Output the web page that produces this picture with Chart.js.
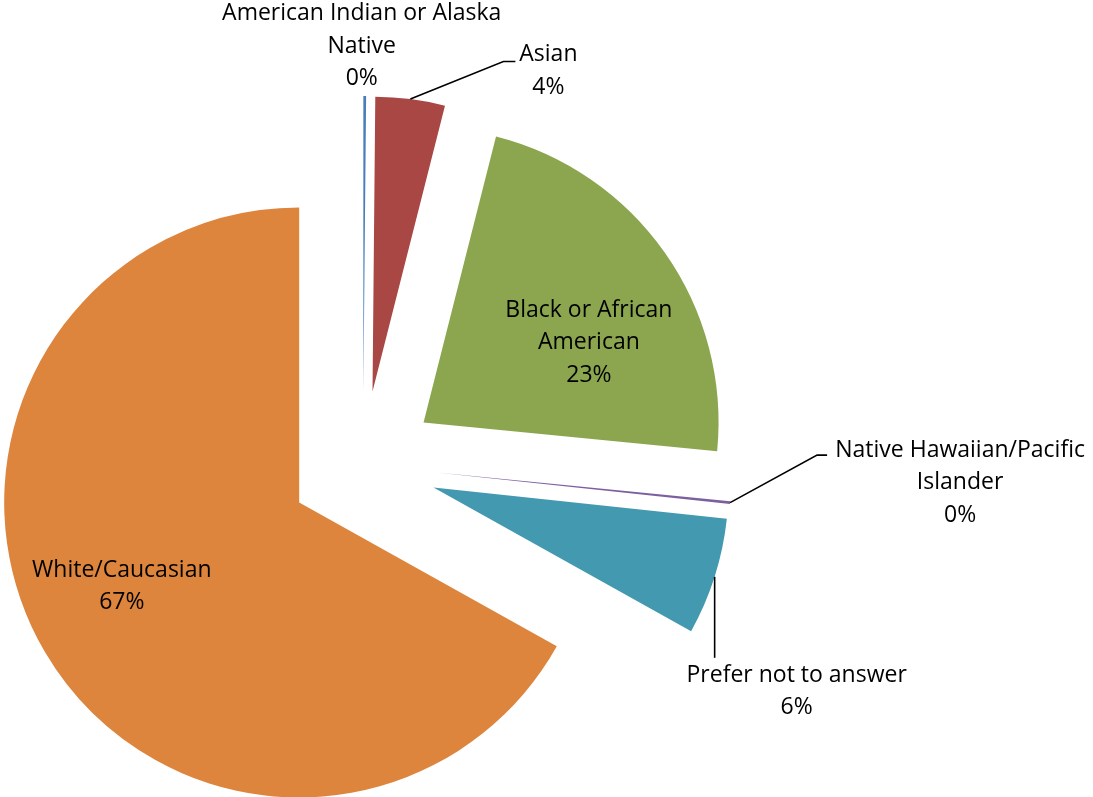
<!DOCTYPE html>
<html>
<head>
<meta charset="utf-8">
<script src="https://cdn.jsdelivr.net/npm/chart.js@4"></script>
<style>
  html, body { margin: 0; padding: 0; background: #fff; }
  #wrap { width: 1093px; height: 797px; position: relative; }
</style>
</head>
<body>
<div id="wrap"><canvas id="pie"></canvas></div>
<script>
// Survey data (percent of respondents)
const categories = [
    'American Indian or Alaska Native',
    'Asian',
    'Black or African American',
    'Native Hawaiian/Pacific Islander',
    'Prefer not to answer',
    'White/Caucasian'
];
const shares = [0.15, 3.8, 22.6, 0.15, 6.4, 66.9];
const sliceColors = ['#4A7EBB', '#A94744', '#8BA64E', '#7D5FA0', '#4399B0', '#DD843D'];

// How the label text is wrapped for each slice
const labelLines = [
    ['American Indian or Alaska', 'Native'],
    ['Asian'],
    ['Black or African', 'American'],
    ['Native Hawaiian/Pacific', 'Islander'],
    ['Prefer not to answer'],
    ['White/Caucasian']
];

// Layout: every slice is pulled out by this many pixels
const EXPLODE = 74;
const RADIUS = 295;
const LINE_H = 32.5;
const FONT = '23px "Open Sans", Lato, sans-serif';

// label placement, relative to the outer middle point of each slice
// text: [dx, dy] of first baseline centre, leader: list of points
const labelLayout = [
    { text: [-3, -76], leader: [] },
    { text: [138, -38], leader: [[93, -37.5], [105, -37.5]] },
    { text: [-76, 64], leader: [] },
    { text: [230, -46], leader: [[87, -47.5], [97, -47.5]] },
    { text: [82, 105], leader: [[0, 81]] },
    { text: [77, -75], leader: [] }
];

// Pull each arc out along its middle angle (Excel style explosion)
const ArcEl = Chart.ArcElement || Chart.elements.ArcElement;
const baseArcDraw = ArcEl.prototype.draw;
ArcEl.prototype.draw = function (ctx) {
    const mid = (this.startAngle + this.endAngle) / 2;
    ctx.save();
    ctx.translate(Math.cos(mid) * EXPLODE, Math.sin(mid) * EXPLODE);
    baseArcDraw.call(this, ctx);
    ctx.restore();
};

// Data labels with leader lines
const pieLabels = {
    id: 'pieLabels',
    afterDatasetsDraw(chart) {
        const ctx = chart.ctx;
        const meta = chart.getDatasetMeta(0);
        const total = shares.reduce((a, b) => a + b, 0);
        ctx.save();
        ctx.font = FONT;
        ctx.fillStyle = '#000';
        ctx.strokeStyle = '#000';
        ctx.lineWidth = 1.6;
        ctx.textAlign = 'center';
        ctx.textBaseline = 'alphabetic';
        meta.data.forEach((arc, i) => {
            const p = arc.getProps(['x', 'y', 'startAngle', 'endAngle', 'outerRadius'], true);
            const mid = (p.startAngle + p.endAngle) / 2;
            const ox = p.x + Math.cos(mid) * (EXPLODE + p.outerRadius);
            const oy = p.y + Math.sin(mid) * (EXPLODE + p.outerRadius);
            const lay = labelLayout[i];

            if (lay.leader.length) {
                ctx.beginPath();
                ctx.moveTo(ox, oy);
                lay.leader.forEach(pt => ctx.lineTo(ox + pt[0], oy + pt[1]));
                ctx.stroke();
            }

            const pct = Math.round(shares[i] / total * 100) + '%';
            const lines = labelLines[i].concat([pct]);
            const tx = ox + lay.text[0];
            let ty = oy + lay.text[1];
            lines.forEach(line => {
                ctx.fillText(line, tx, ty);
                ty += LINE_H;
            });
        });
        ctx.restore();
    }
};

document.addEventListener('DOMContentLoaded', () => {
    const ctx = document.getElementById('pie').getContext('2d');
    new Chart(ctx, {
        type: 'pie',
        data: {
            labels: categories,
            datasets: [{
                data: shares,
                backgroundColor: sliceColors,
                borderWidth: 0,
                radius: RADIUS
            }]
        },
        options: {
            responsive: true,
            maintainAspectRatio: false,
            animation: false,
            // puts the pie centre at (363, 465)
            layout: { padding: { left: 0, right: 367, top: 133, bottom: 0 } },
            plugins: {
                legend: { display: false },
                tooltip: { enabled: false }
            }
        },
        plugins: [pieLabels]
    });
});
</script>
</body>
</html>
